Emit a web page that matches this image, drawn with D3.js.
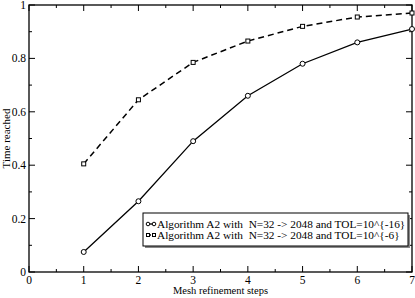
<!DOCTYPE html>
<html>
<head>
<meta charset="utf-8">
<script src="https://cdn.jsdelivr.net/npm/d3@7"></script>
<style>
  body { margin: 0; background: #fff; }
  text { font-family: "Liberation Serif", "DejaVu Serif", serif; white-space: pre; }
</style>
</head>
<body>
<div id="chart"></div>
<script>
var steps = [1, 2, 3, 4, 5, 6, 7];
var tol16 = [0.075, 0.265, 0.49, 0.66, 0.78, 0.86, 0.91];
var tol6 = [0.405, 0.645, 0.785, 0.865, 0.92, 0.955, 0.97];
var seriesNames = [
  "Algorithm A2 with  N=32 -> 2048 and TOL=10^{-16}",
  "Algorithm A2 with  N=32 -> 2048 and TOL=10^{-6}"
];
var xTicks = [0, 1, 2, 3, 4, 5, 6, 7];
var yTicks = [0, 0.2, 0.4, 0.6, 0.8, 1];

var W = 415, H = 298;
var pLeft = 29, pRight = 412, pTop = 5, pBottom = 272;

var svg = d3.select("#chart").append("svg")
    .attr("width", W)
    .attr("height", H);

var x = d3.scaleLinear().domain([0, 7]).range([pLeft, pRight]);
var y = d3.scaleLinear().domain([0, 1]).range([pBottom, pTop]);

// frame
svg.append("rect")
    .attr("x", pLeft).attr("y", pTop)
    .attr("width", pRight - pLeft).attr("height", pBottom - pTop)
    .style("fill", "none").style("stroke", "#000").style("stroke-width", 1.3);

// ticks on all sides, pointing in
var minorX = d3.range(0, 7.01, 0.5);
var minorY = d3.range(0, 1.001, 0.1);
minorX.forEach(function (v) {
    var major = Math.abs(v - Math.round(v)) < 1e-6;
    var len = major ? 6 : 3;
    svg.append("line").attr("x1", x(v)).attr("x2", x(v))
        .attr("y1", pBottom).attr("y2", pBottom - len).style("stroke", "#000");
    svg.append("line").attr("x1", x(v)).attr("x2", x(v))
        .attr("y1", pTop).attr("y2", pTop + len).style("stroke", "#000");
});
minorY.forEach(function (v, i) {
    var len = i % 2 == 0 ? 6 : 3;
    svg.append("line").attr("y1", y(v)).attr("y2", y(v))
        .attr("x1", pLeft).attr("x2", pLeft + len).style("stroke", "#000");
    svg.append("line").attr("y1", y(v)).attr("y2", y(v))
        .attr("x1", pRight).attr("x2", pRight - len).style("stroke", "#000");
});

// tick labels
xTicks.forEach(function (v) {
    svg.append("text").attr("x", x(v)).attr("y", pBottom + 12)
        .attr("text-anchor", "middle").style("font-size", "11.5px").text(v);
});
yTicks.forEach(function (v) {
    svg.append("text").attr("x", pLeft - 3).attr("y", y(v) + 4)
        .attr("text-anchor", "end").style("font-size", "11.5px").text(v);
});

// axis titles
svg.append("text").attr("x", (pLeft + pRight) / 2).attr("y", 294)
    .attr("text-anchor", "middle").style("font-size", "10.5px").text("Mesh refinement steps");
svg.append("text")
    .attr("transform", "translate(10," + ((pTop + pBottom) / 2) + ") rotate(-90)")
    .attr("text-anchor", "middle").style("font-size", "11px").text("Time reached");

var line = d3.line()
    .x(function (d, i) { return x(steps[i]); })
    .y(function (d) { return y(d); });

// dashed series with squares
svg.append("path").datum(tol6).attr("d", line)
    .style("fill", "none").style("stroke", "#000").style("stroke-width", 1.5)
    .style("stroke-dasharray", "6,4");
svg.selectAll(".sq").data(tol6).enter().append("rect")
    .attr("x", function (d, i) { return x(steps[i]) - 2; })
    .attr("y", function (d) { return y(d) - 2; })
    .attr("width", 4).attr("height", 4)
    .style("fill", "#fff").style("stroke", "#000").style("stroke-width", 1);

// solid series with circles
svg.append("path").datum(tol16).attr("d", line)
    .style("fill", "none").style("stroke", "#000").style("stroke-width", 1.3);
svg.selectAll(".ci").data(tol16).enter().append("circle")
    .attr("cx", function (d, i) { return x(steps[i]); })
    .attr("cy", function (d) { return y(d); })
    .attr("r", 2.5)
    .style("fill", "#fff").style("stroke", "#000").style("stroke-width", 1);

// legend
var lg = svg.append("g");
lg.append("rect").attr("x", 145).attr("y", 215).attr("width", 265).attr("height", 33)
    .style("fill", "#888");
lg.append("rect").attr("x", 143).attr("y", 213).attr("width", 265).attr("height", 33)
    .style("fill", "#fff").style("stroke", "#000").style("stroke-width", 1);
seriesNames.forEach(function (name, i) {
    var yy = 224 + i * 11;
    lg.append("line").attr("x1", 148).attr("x2", 154).attr("y1", yy).attr("y2", yy)
        .style("stroke", "#000").style("stroke-width", 1.3)
        .style("stroke-dasharray", i == 1 ? "3,2" : null);
    if (i == 0) {
        lg.append("circle").attr("cx", 148).attr("cy", yy).attr("r", 1.8)
            .style("fill", "#fff").style("stroke", "#000");
        lg.append("circle").attr("cx", 154).attr("cy", yy).attr("r", 1.8)
            .style("fill", "#fff").style("stroke", "#000");
    } else {
        lg.append("rect").attr("x", 146.5).attr("y", yy - 1.5).attr("width", 3).attr("height", 3)
            .style("fill", "#fff").style("stroke", "#000");
        lg.append("rect").attr("x", 152.5).attr("y", yy - 1.5).attr("width", 3).attr("height", 3)
            .style("fill", "#fff").style("stroke", "#000");
    }
    lg.append("text").attr("x", 157).attr("y", yy + 4)
        .style("font-size", "11.3px").text(name);
});
</script>
</body>
</html>
